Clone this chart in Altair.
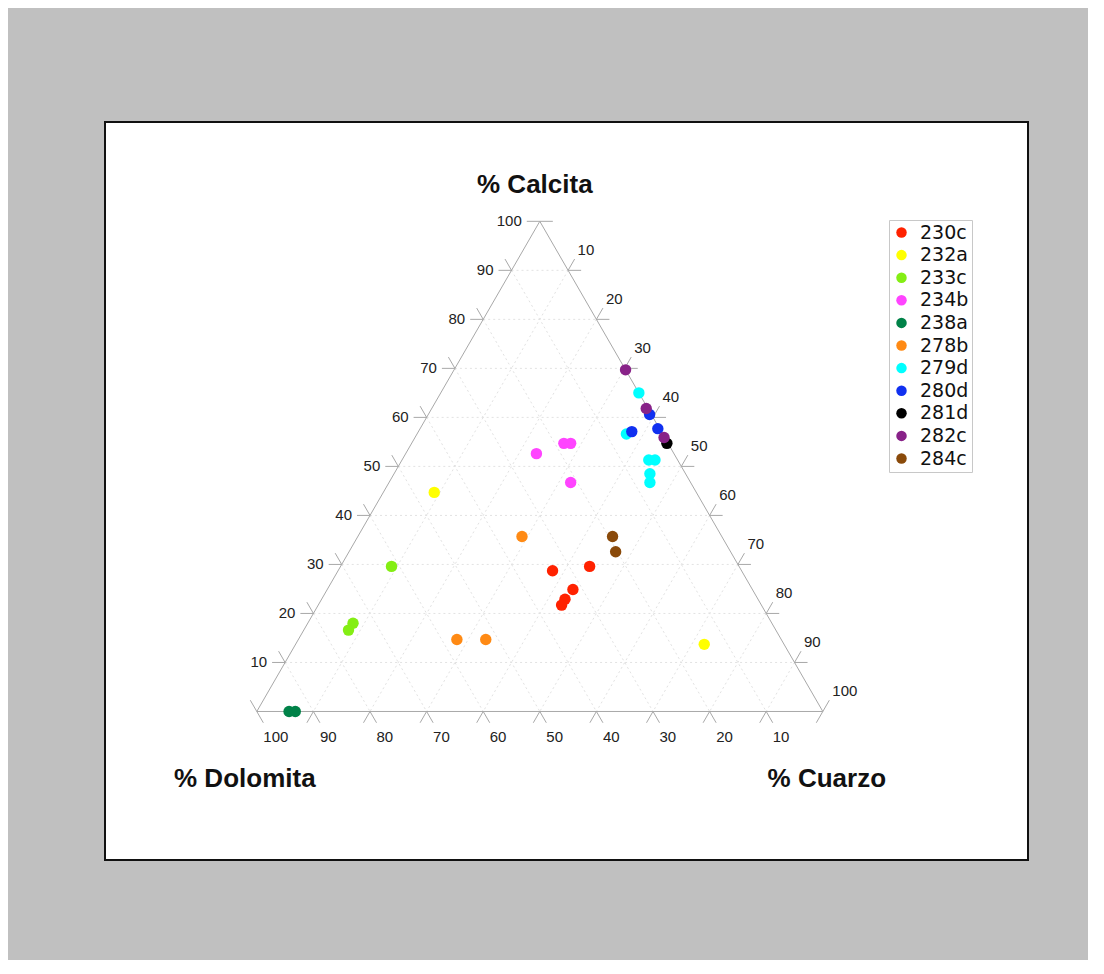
import altair as alt
import pandas as pd
import numpy as np

# ---- legend / series ----
samples = ["230c", "232a", "233c", "234b", "238a", "278b", "279d", "280d", "281d", "282c", "284c"]
colors = ["#ff2200", "#ffff00", "#84ee14", "#ff44ff", "#008248", "#ff8a14",
          "#00ffff", "#1030f0", "#000000", "#882288", "#8a4a0a"]

# ---- points (percent values) ----
pt_sample = ["230c", "230c", "230c", "230c", "230c",
             "232a", "232a",
             "233c", "233c", "233c",
             "234b", "234b", "234b", "234b",
             "238a", "238a",
             "278b", "278b", "278b",
             "279d", "279d", "279d", "279d", "279d", "279d",
             "280d", "280d", "280d",
             "281d",
             "282c", "282c", "282c",
             "284c", "284c"]
pt_calcita = [29.6, 28.7, 24.9, 22.9, 21.7,
              44.7, 13.7,
              29.6, 18.0, 16.6,
              52.6, 54.7, 54.7, 46.7,
              0.0, 0.0,
              35.7, 14.7, 14.7,
              65.0, 56.6, 51.3, 51.3, 48.5, 46.7,
              60.6, 57.7, 57.1,
              54.7,
              69.7, 61.8, 55.9,
              35.7, 32.6]
pt_dolomita = [26.4, 33.4, 31.7, 34.1, 35.3,
               46.3, 14.1,
               61.4, 74.0, 75.5,
               24.3, 18.4, 17.2, 21.2,
               94.3, 93.2,
               35.3, 57.3, 52.2,
               0.0, 6.4, 5.1, 4.0, 6.3, 7.2,
               0.3, 0.3, 5.2,
               0.2,
               0.0, 0.3, 0.1,
               19.3, 20.3]
pt_cuarzo = [44.0, 37.9, 43.4, 43.0, 43.0,
             9.0, 72.2,
             9.0, 8.0, 7.9,
             23.1, 26.9, 28.1, 32.1,
             5.7, 6.8,
             29.0, 28.0, 33.1,
             35.0, 37.0, 43.6, 44.7, 45.2, 46.1,
             39.1, 42.0, 37.7,
             45.1,
             30.3, 37.9, 44.0,
             45.0, 47.1]

tick_values = [10, 20, 30, 40, 50, 60, 70, 80, 90, 100]
grid_values = [10, 20, 30, 40, 50, 60, 70, 80, 90]

H = np.sqrt(3) / 2
EXT = 2.3  # tick extension length in data units


def xy(c, q):
    return q + c / 2.0, c * H


def family_segment(fam, v):
    """Return (p1, out1, p2, out2): endpoints on the edges and outward unit vectors."""
    if fam == "c":
        p1 = xy(v, 0)            # left edge
        p2 = xy(v, 100 - v)      # right edge
        return p1, (-1.0, 0.0), p2, (1.0, 0.0)
    if fam == "d":
        p1 = xy(100 - v, 0)      # left edge
        p2 = xy(0, 100 - v)      # bottom edge
        return p1, (-0.5, H), p2, (0.5, -H)
    p1 = xy(100 - v, v)          # right edge
    p2 = xy(0, v)                # bottom edge
    return p1, (0.5, H), p2, (-0.5, -H)


grid_rows, tick_rows = [], []
clab, dlab, qlab = [], [], []
for fam in ["c", "d", "q"]:
    for v in tick_values:
        p1, o1, p2, o2 = family_segment(fam, v)
        e1 = (p1[0] + EXT * o1[0], p1[1] + EXT * o1[1])
        e2 = (p2[0] + EXT * o2[0], p2[1] + EXT * o2[1])
        tick_rows.append(dict(x=p1[0], y=p1[1], x2=e1[0], y2=e1[1]))
        tick_rows.append(dict(x=p2[0], y=p2[1], x2=e2[0], y2=e2[1]))
        if v in grid_values:
            grid_rows.append(dict(x=p1[0], y=p1[1], x2=p2[0], y2=p2[1]))
        if fam == "c":
            clab.append(dict(x=e1[0], y=e1[1], t=str(v)))
        elif fam == "d":
            dlab.append(dict(x=e2[0], y=e2[1], t=str(v)))
        else:
            qlab.append(dict(x=e1[0], y=e1[1], t=str(v)))

vT, vL, vR = xy(100, 0), xy(0, 0), xy(0, 100)
edge_rows = [dict(x=vL[0], y=vL[1], x2=vR[0], y2=vR[1]),
             dict(x=vL[0], y=vL[1], x2=vT[0], y2=vT[1]),
             dict(x=vT[0], y=vT[1], x2=vR[0], y2=vR[1])]

XS = alt.Scale(domain=[-26.82, 136.25], nice=False, zero=False)
YS = alt.Scale(domain=[-26.24, 104.15], nice=False, zero=False)


def seg_layer(rows, color, dash=None, width=1.0):
    kw = dict(color=color, strokeWidth=width)
    if dash:
        kw["strokeDash"] = dash
    return alt.Chart(pd.DataFrame(rows)).mark_rule(**kw).encode(
        x=alt.X("x:Q", scale=XS, axis=None),
        y=alt.Y("y:Q", scale=YS, axis=None),
        x2="x2:Q", y2="y2:Q")


def text_layer(rows, **kw):
    return alt.Chart(pd.DataFrame(rows)).mark_text(
        font="Liberation Sans", fontSize=15, color="#222222", **kw).encode(
        x=alt.X("x:Q", scale=XS, axis=None),
        y=alt.Y("y:Q", scale=YS, axis=None),
        text="t:N")


grid = seg_layer(grid_rows, "#e2e2e2", dash=[2, 3])
edges = seg_layer(edge_rows, "#a8a8a8")
ticks = seg_layer(tick_rows, "#a8a8a8")
lab_c = text_layer(clab, align="right", baseline="middle", dx=-5)
lab_d = text_layer(dlab, align="left", baseline="middle", dx=0, dy=14)
lab_q = text_layer(qlab, align="left", baseline="middle", dx=3, dy=-9)


def title_layer(txt, pos, dx, dy):
    return alt.Chart(pd.DataFrame([dict(x=pos[0], y=pos[1], t=txt)])).mark_text(
        font="Liberation Sans", fontSize=26, fontWeight="bold", color="#111111",
        align="center", baseline="alphabetic", dx=dx, dy=dy).encode(
        x=alt.X("x:Q", scale=XS, axis=None),
        y=alt.Y("y:Q", scale=YS, axis=None),
        text="t:N")


t_c = title_layer("% Calcita", vT, -5, -28)
t_d = title_layer("% Dolomita", vL, -12, 76)
t_q = title_layer("% Cuarzo", vR, 4, 76)

pts_df = pd.DataFrame(dict(sample=pt_sample, calcita=pt_calcita,
                           dolomita=pt_dolomita, cuarzo=pt_cuarzo))
pts_df["order"] = [samples.index(s) for s in pt_sample]

points = alt.Chart(pts_df).transform_calculate(
    px="datum.cuarzo + datum.calcita / 2",
    py="datum.calcita * sqrt(3) / 2",
).mark_point(filled=True, opacity=1, size=130, shape="circle").encode(
    x=alt.X("px:Q", scale=XS, axis=None),
    y=alt.Y("py:Q", scale=YS, axis=None),
    order=alt.Order("order:Q"),
    color=alt.Color("sample:N",
                    scale=alt.Scale(domain=samples, range=colors),
                    legend=alt.Legend(orient="none", legendX=784, legendY=98,
                                      title=None, labelFont="DejaVu Sans",
                                      labelFontSize=19, labelColor="#111111",
                                      symbolType="circle", symbolSize=110,
                                      symbolStrokeWidth=0, labelOffset=9,
                                      strokeColor="#c8c8c8", fillColor="white",
                                      padding=3, rowPadding=2.6)),
)

chart = alt.layer(grid, edges, ticks, lab_c, lab_d, lab_q, t_c, t_d, t_q, points).properties(
    width=923, height=738,
    background="#c0c0c0",
    padding={"left": 97, "top": 114, "right": 60, "bottom": 100},
    autosize=alt.AutoSizeParams(type="none"),
).configure_view(fill="white", stroke="#111111", strokeWidth=2)

chart.save("out.html", embed_options={"renderer": "svg", "actions": False})
